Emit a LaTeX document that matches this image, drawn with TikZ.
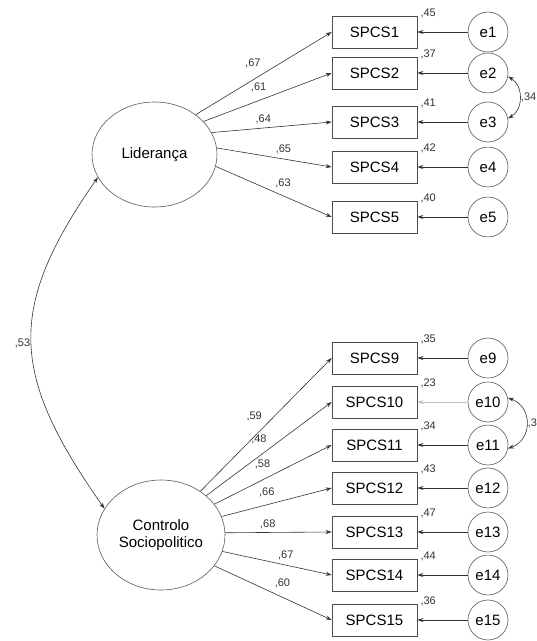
\documentclass[tikz,border=0pt]{standalone}
\usepackage{fontspec}
\setmainfont{Liberation Sans}
\usetikzlibrary{shapes.geometric,arrows.meta}
\tikzstyle{lat} = [ellipse, text centered, align=center, draw=black!65, line width=0.6pt, inner sep=1pt, font=\fontsize{15}{17}\selectfont]
\tikzstyle{obs} = [rectangle, text centered, draw=black!70, line width=0.6pt, minimum width=85pt, minimum height=32pt, inner sep=0pt, font=\fontsize{15}{17}\selectfont]
\tikzstyle{err} = [circle, text centered, draw=black!65, line width=0.6pt, minimum size=40pt, inner sep=0pt, font=\fontsize{15}{17}\selectfont]
\tikzstyle{lbl} = [inner sep=0pt, text=black!80, font=\fontsize{11}{13}\selectfont]
\tikzstyle{rsq} = [lbl, anchor=west, xshift=3pt, yshift=2pt]
\tikzstyle{ld} = [black!80, line width=0.6pt, ->]
\tikzstyle{ep} = [black!80, line width=0.6pt, ->]
\tikzstyle{cv} = [black!80, line width=0.6pt, <->]
\begin{document}
\begin{tikzpicture}[x=1pt, y=-1pt, >={Stealth[length=6pt,width=4pt]}]
    \useasboundingbox (0,0) rectangle (537,641);
    \node (Lid) [lat, minimum width=125pt, minimum height=105pt] at (154.5,154.5) {Liderança};
    \node (Ctrl) [lat, minimum width=128pt, minimum height=110pt] at (161,535) {Controlo\\Sociopolitico};
    \node (S1) [obs] at (374.5,32) {SPCS1};
    \node (S2) [obs] at (374.5,73) {SPCS2};
    \node (S3) [obs] at (374.5,122) {SPCS3};
    \node (S4) [obs] at (374.5,167) {SPCS4};
    \node (S5) [obs] at (374.5,217) {SPCS5};
    \node (S9) [obs] at (374.5,358) {SPCS9};
    \node (S10) [obs] at (374.5,402) {SPCS10};
    \node (S11) [obs] at (374.5,445) {SPCS11};
    \node (S12) [obs] at (374.5,488) {SPCS12};
    \node (S13) [obs] at (374.5,532) {SPCS13};
    \node (S14) [obs] at (374.5,575) {SPCS14};
    \node (S15) [obs] at (374.5,620) {SPCS15};
    \node (e1) [err] at (488,32) {e1};
    \node (e2) [err] at (488,73) {e2};
    \node (e3) [err] at (488,122) {e3};
    \node (e4) [err] at (488,167) {e4};
    \node (e5) [err] at (488,217) {e5};
    \node (e9) [err] at (488,358) {e9};
    \node (e10) [err] at (488,402) {e10};
    \node (e11) [err] at (488,445) {e11};
    \node (e12) [err] at (488,488) {e12};
    \node (e13) [err] at (488,532) {e13};
    \node (e14) [err] at (488,575) {e14};
    \node (e15) [err] at (488,620) {e15};
    \node (r1) [rsq] at (S1.north east) {,45};
    \node (r2) [rsq] at (S2.north east) {,37};
    \node (r3) [rsq] at (S3.north east) {,41};
    \node (r4) [rsq] at (S4.north east) {,42};
    \node (r5) [rsq] at (S5.north east) {,40};
    \node (r9) [rsq] at (S9.north east) {,35};
    \node (r10) [rsq] at (S10.north east) {,23};
    \node (r11) [rsq] at (S11.north east) {,34};
    \node (r12) [rsq] at (S12.north east) {,43};
    \node (r13) [rsq] at (S13.north east) {,47};
    \node (r14) [rsq] at (S14.north east) {,44};
    \node (r15) [rsq] at (S15.north east) {,36};
    \draw[ld] (Lid.44) -- node (w1) [lbl, pos=.42, yshift=17pt] {,67} (S1.west);
    \draw[ld] (Lid.34) -- node (w2) [lbl, pos=.43, yshift=13pt] {,61} (S2.west);
    \draw[ld] (Lid.21) -- node (w3) [lbl, pos=.43, yshift=9pt] {,64} (S3.west);
    \draw[ld] (Lid.6) -- node (w4) [lbl, pos=.58, yshift=10pt] {,65} (S4.west);
    \draw[ld] (Lid.-11) -- node (w5) [lbl, pos=.58, yshift=12pt] {,63} (S5.west);
    \draw[ld] (Ctrl.48) -- node (w9) [lbl, pos=.41, yshift=20pt] {,59} (S9.west);
    \draw[ld] (Ctrl.41) -- node (w10) [lbl, pos=.42, yshift=17pt] {,48} (S10.west);
    \draw[ld] (Ctrl.30) -- node (w11) [lbl, pos=.41, yshift=16pt] {,58} (S11.west);
    \draw[ld] (Ctrl.17) -- node (w12) [lbl, pos=.41, yshift=12pt] {,66} (S12.west);
    \draw[ld] (Ctrl.2) -- node (w13) [lbl, pos=.40, yshift=8pt] {,68} (S13.west);
    \draw[ld] (Ctrl.-15) -- node (w14) [lbl, pos=.58, yshift=10pt] {,67} (S14.west);
    \draw[ld] (Ctrl.-30) -- node (w15) [lbl, pos=.58, yshift=14pt] {,60} (S15.west);
    \draw[ep] (e1) -- (S1);
    \draw[ep] (e2) -- (S2);
    \draw[ep] (e3) -- (S3);
    \draw[ep] (e4) -- (S4);
    \draw[ep] (e5) -- (S5);
    \draw[ep] (e9) -- (S9);
    \draw[ep, black!25] (e10) -- (S10);
    \draw[ep] (e11) -- (S11);
    \draw[ep] (e12) -- (S12);
    \draw[ep] (e13) -- (S13);
    \draw[ep] (e14) -- (S14);
    \draw[ep] (e15) -- (S15);
    \draw[cv] (e2.-10) to[bend left=60, looseness=1.1] node (c1) [lbl, right=1pt] {,34} (e3.10);
    \draw[cv] (e10.12) to[bend left=70, looseness=1.33] node (c2) [lbl, right=1pt] {,3} (e11.-10);
    \draw[cv] (Lid.202) to[out=235, in=125, looseness=1.25] node (c0) [lbl, left=1pt] {,53} (Ctrl.155);
\end{tikzpicture}
\end{document}
